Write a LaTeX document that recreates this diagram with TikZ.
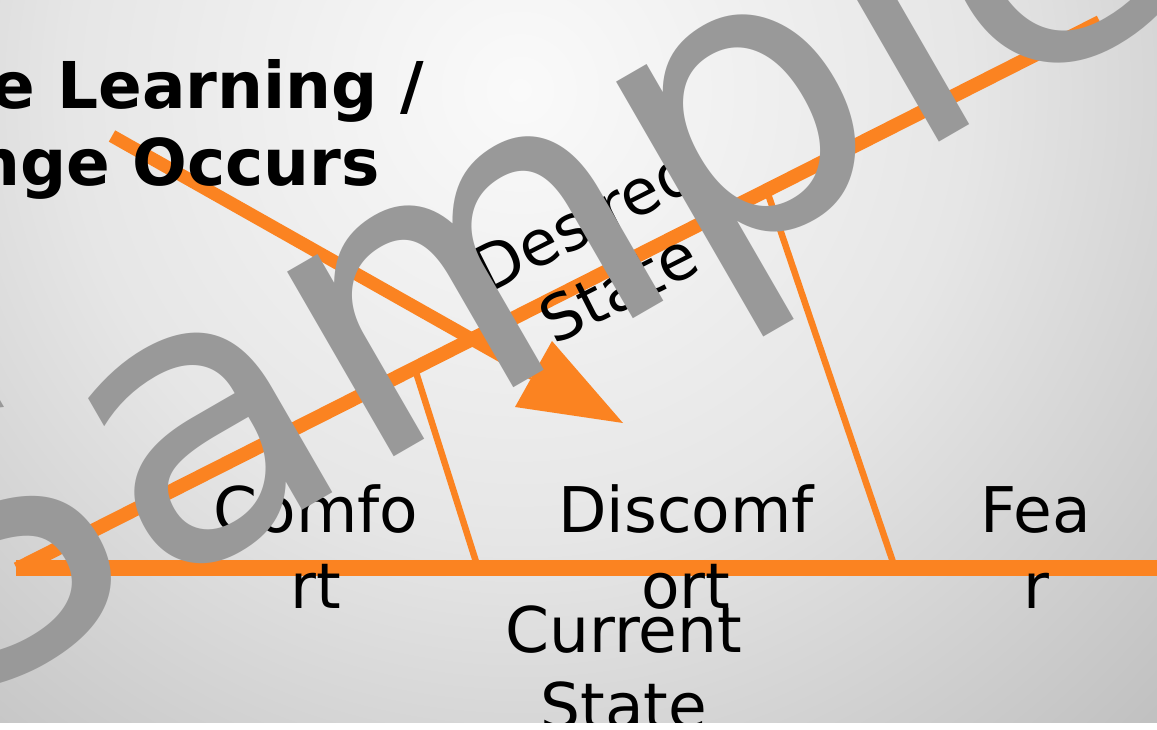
\documentclass[tikz,border=0pt]{standalone}
\usepackage{fontspec}
\setmainfont{DejaVu Sans}
\definecolor{orng}{RGB}{251,131,33}
\definecolor{wmgray}{RGB}{153,153,153}
\definecolor{bgA}{RGB}{250,250,250}
\definecolor{bgB}{RGB}{230,230,230}
\definecolor{bgC}{RGB}{188,188,188}
\pgfdeclareradialshading{bgshade}{\pgfpoint{0bp}{0bp}}{color(0bp)=(bgA); color(450bp)=(bgB); color(950bp)=(bgC)}
\tikzset{
 axisline/.style={draw=orng, line width=16bp},
 diagline/.style={draw=orng, line width=14bp},
 shaftline/.style={draw=orng, line width=13bp},
 thinline/.style={draw=orng, line width=6.5bp},
 headfill/.style={fill=orng},
 lbl/.style={inner sep=0pt, align=center, font=\fontsize{63bp}{76bp}\selectfont, text=black},
 ttl/.style={inner sep=0pt, font=\bfseries\fontsize{64.5bp}{78bp}\selectfont, text=black},
 wm/.style={inner sep=0pt, text=wmgray, font=\fontsize{390bp}{460bp}\selectfont},
}
\begin{document}
\begin{tikzpicture}[x=1bp,y=-1bp]
\useasboundingbox (0,0) rectangle (1157,730);
\fill[white] (0,0) rectangle (1157,730);
\begin{scope}
\clip (0,0) rectangle (1157,722);
\node[inner sep=0pt, outer sep=0pt] (bg) at (520,90) {\pgfuseshading{bgshade}};
% axes
\coordinate (O) at (16,568);
\coordinate (H) at (1170,568);
\coordinate (OD) at (17,569);
\coordinate (D) at (1100,22);
\coordinate (T1) at (414,366);
\coordinate (B1) at (478,568);
\coordinate (T2) at (766,188);
\coordinate (B2) at (895,568);
\draw[axisline] (O) -- (H);
\draw[diagline] (OD) -- (D);
\draw[thinline] (T1) -- (B1);
\draw[thinline] (T2) -- (B2);
% arrow
\coordinate (A1) at (112,136);
\coordinate (AB) at (533.5,374);
\coordinate (AC1) at (515,407);
\coordinate (AC2) at (552,341);
\coordinate (AT) at (623,423);
\draw[shaftline] (A1) -- (AB);
\fill[headfill] (AC1) -- (AT) -- (AC2) -- cycle;
% labels (base anchor = baseline of last line)
\node[lbl, anchor=base] (comfort) at (316,608) {Comfo\\rt};
\node[lbl, anchor=base] (discomfort) at (686,608) {Discomf\\ort};
\node[lbl, anchor=base] (fear) at (1036,608) {Fea\\r};
\node[lbl, anchor=base] (current) at (624,728) {Current\\State};
\node[lbl, anchor=base, rotate=26.8] (desired) at (629,308) {Desired\\State};
% title
\node[ttl, anchor=base east] (title1) at (424,109) {e Learning /};
\node[ttl, anchor=base east] (title2) at (380,186) {nge Occurs};
% watermark
\node[wm, anchor=base west, rotate=30] (wmark) at (-58,718) {Sample};
\end{scope}
\end{tikzpicture}
\end{document}
